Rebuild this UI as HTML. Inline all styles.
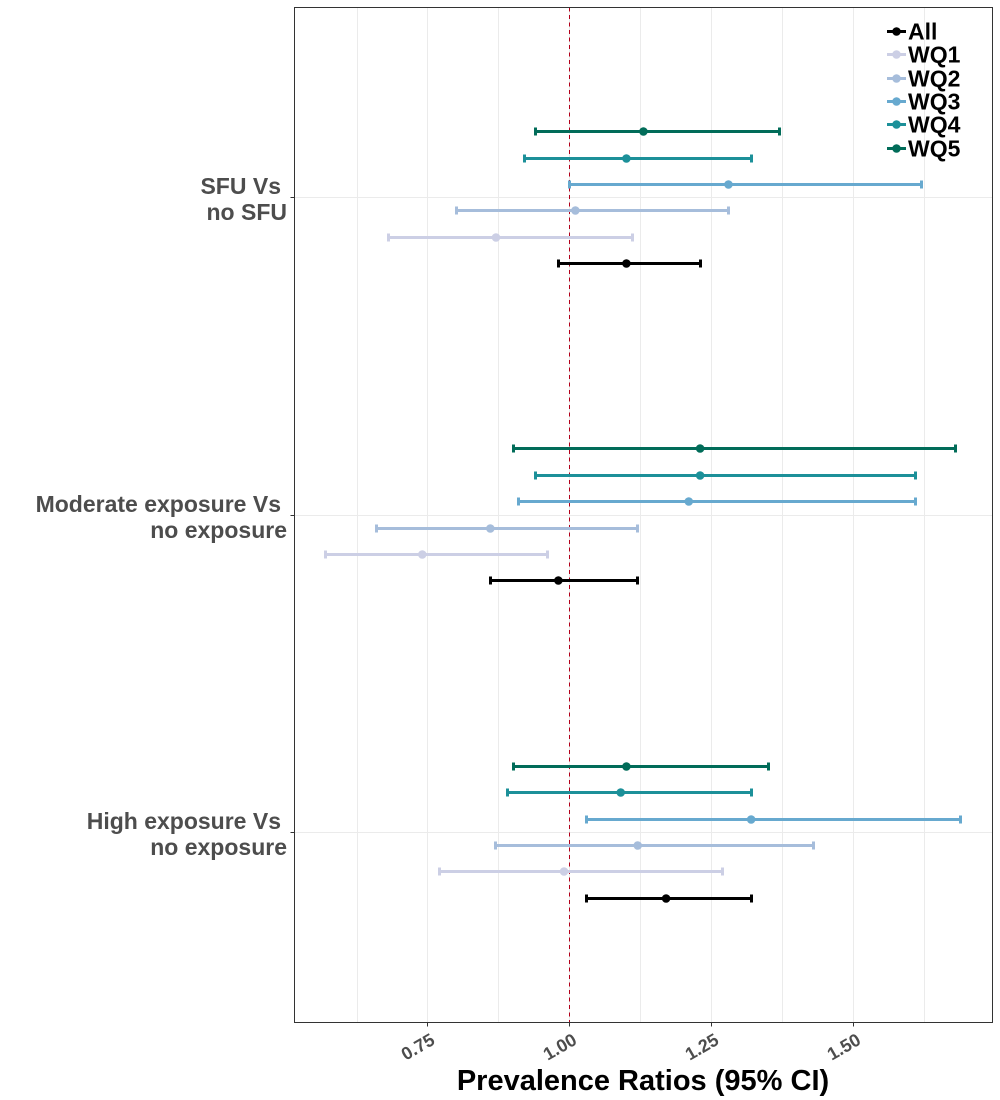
<!DOCTYPE html>
<html lang="en">
<head>
<meta charset="utf-8">
<title>Prevalence Ratios forest plot</title>
<style>
html,body{margin:0;padding:0;background:#fff;}
svg{display:block;}
text{font-family:"Liberation Sans",sans-serif;font-weight:bold;}
</style>
</head>
<body>
<svg id="chart" width="1000" height="1100" viewBox="0 0 1000 1100" xmlns="http://www.w3.org/2000/svg"></svg>
<script>
const categories = ["High exposure Vs \nno exposure", "Moderate exposure Vs \nno exposure", "SFU Vs \nno SFU"];
const categoryKeys = ["high", "moderate", "sfu"];
const seriesNames = ["All", "WQ1", "WQ2", "WQ3", "WQ4", "WQ5"];
const seriesColors = ["#000000", "#cccfe5", "#a6bddb", "#67a9cf", "#1c9099", "#016c59"];
const estimates = [
  [1.17, 0.99, 1.12, 1.32, 1.09, 1.10],
  [0.98, 0.74, 0.86, 1.21, 1.23, 1.23],
  [1.10, 0.87, 1.01, 1.28, 1.10, 1.13]
];
const lowerCI = [
  [1.03, 0.77, 0.87, 1.03, 0.89, 0.90],
  [0.86, 0.57, 0.66, 0.91, 0.94, 0.90],
  [0.98, 0.68, 0.80, 1.00, 0.92, 0.94]
];
const upperCI = [
  [1.32, 1.27, 1.43, 1.69, 1.32, 1.35],
  [1.12, 0.96, 1.12, 1.61, 1.61, 1.68],
  [1.23, 1.11, 1.28, 1.62, 1.32, 1.37]
];
const xTicks = [0.75, 1.00, 1.25, 1.50];
const xMinorTicks = [0.625, 0.875, 1.125, 1.375, 1.625];
const xTickLabels = ["0.75", "1.00", "1.25", "1.50"];
const referenceValue = 1;

const NS = "http://www.w3.org/2000/svg";
const svg = document.getElementById("chart");
const panel = { left: 294.5, right: 992.5, top: 7.5, bottom: 1022.5 };

function x(v) { return 569.7 + (v - 1) * 567; }
function y(catIndex) { return 832.25 - catIndex * 317.27; }
function dodge(seriesIndex) { return 66 - seriesIndex * 26.4; }
function snap(p) { return Math.floor(p) + 0.5; }

function make(tag, attrs, parent) {
  const el = document.createElementNS(NS, tag);
  for (const k in attrs) el.setAttribute(k, attrs[k]);
  (parent || svg).appendChild(el);
  return el;
}

// grid
xMinorTicks.concat(xTicks).forEach(function (t) {
  const g = make("line", { x1: snap(x(t)), x2: snap(x(t)), y1: panel.top, y2: panel.bottom, stroke: "#ebebeb", "stroke-width": 1, "shape-rendering": "crispEdges" });
  
  
});
categories.forEach(function (c, i) {
  const gy = snap(y(i) + 0.05);
  const g = make("line", { x1: panel.left, x2: panel.right, y1: gy, y2: gy, stroke: "#ebebeb", "stroke-width": 1, "shape-rendering": "crispEdges" });
  
  
});

// reference line
const ref = make("line", { x1: snap(x(referenceValue)), x2: snap(x(referenceValue)), y1: panel.top, y2: panel.bottom, stroke: "#b2001a", "stroke-width": 1, "stroke-dasharray": "4 3.5", "shape-rendering": "crispEdges" });



// series
categories.forEach(function (c, ci) {
  seriesNames.forEach(function (s, si) {
    const cy = snap(y(ci) + dodge(si));
    const color = seriesColors[si];
    const lo = snap(x(lowerCI[ci][si]));
    const hi = snap(x(upperCI[ci][si]));
    const group = make("g", {});
    
    
    make("line", { x1: lo, x2: hi, y1: cy, y2: cy, stroke: color, "stroke-width": 3, "shape-rendering": "crispEdges" }, group);
    make("line", { x1: lo, x2: lo, y1: cy - 4, y2: cy + 4, stroke: color, "stroke-width": 3, "shape-rendering": "crispEdges" }, group);
    make("line", { x1: hi, x2: hi, y1: cy - 4, y2: cy + 4, stroke: color, "stroke-width": 3, "shape-rendering": "crispEdges" }, group);
    make("circle", { cx: x(estimates[ci][si]), cy: cy, r: 4.3, fill: color }, group);
  });
});

// panel border
const border = make("rect", { x: panel.left, y: panel.top, width: panel.right - panel.left, height: panel.bottom - panel.top, fill: "none", stroke: "#333333", "stroke-width": 1, "shape-rendering": "crispEdges" });



// x axis ticks and labels
xTicks.forEach(function (t, i) {
  const tx = snap(x(t));
  const tick = make("line", { x1: tx, x2: tx, y1: panel.bottom, y2: panel.bottom + 4, stroke: "#333333", "stroke-width": 1, "shape-rendering": "crispEdges" });
  
  
  const lx = tx - 9;
  const ly = 1048;
  const label = make("text", { x: lx, y: ly, "text-anchor": "middle", "dominant-baseline": "middle", "font-size": 18, fill: "#4d4d4d", transform: "rotate(-30 " + lx + " " + ly + ")" });
  label.textContent = xTickLabels[i];
  
  
});

// y axis ticks and labels
categories.forEach(function (c, i) {
  const ty = snap(y(i) + 0.05);
  const tick = make("line", { x1: panel.left - 4, x2: panel.left, y1: ty, y2: ty, stroke: "#333333", "stroke-width": 1, "shape-rendering": "crispEdges" });
  
  
  const lines = c.split("\n");
  const label = make("text", { "font-size": 23, fill: "#4d4d4d", "text-anchor": "end" });
  
  
  make("tspan", { x: 281, y: ty - 3.5 }, label).textContent = lines[0].trim();
  make("tspan", { x: 287, y: ty + 22.5 }, label).textContent = lines[1];
});

// axis title
const title = make("text", { x: 643, y: 1090, "text-anchor": "middle", "font-size": 29, fill: "#000000" });
title.textContent = "Prevalence Ratios (95% CI)";



// legend
seriesNames.forEach(function (s, si) {
  const ly = snap(31.5 + si * 23.3);
  const entry = make("g", {});
  
  
  make("line", { x1: 887, x2: 906, y1: ly, y2: ly, stroke: seriesColors[si], "stroke-width": 3, "shape-rendering": "crispEdges" }, entry);
  make("circle", { cx: 896.5, cy: ly, r: 4.3, fill: seriesColors[si] }, entry);
  const t = make("text", { x: 908, y: ly + 8, "font-size": 23, fill: "#000000" }, entry);
  t.textContent = s;
});
</script>
</body>
</html>
